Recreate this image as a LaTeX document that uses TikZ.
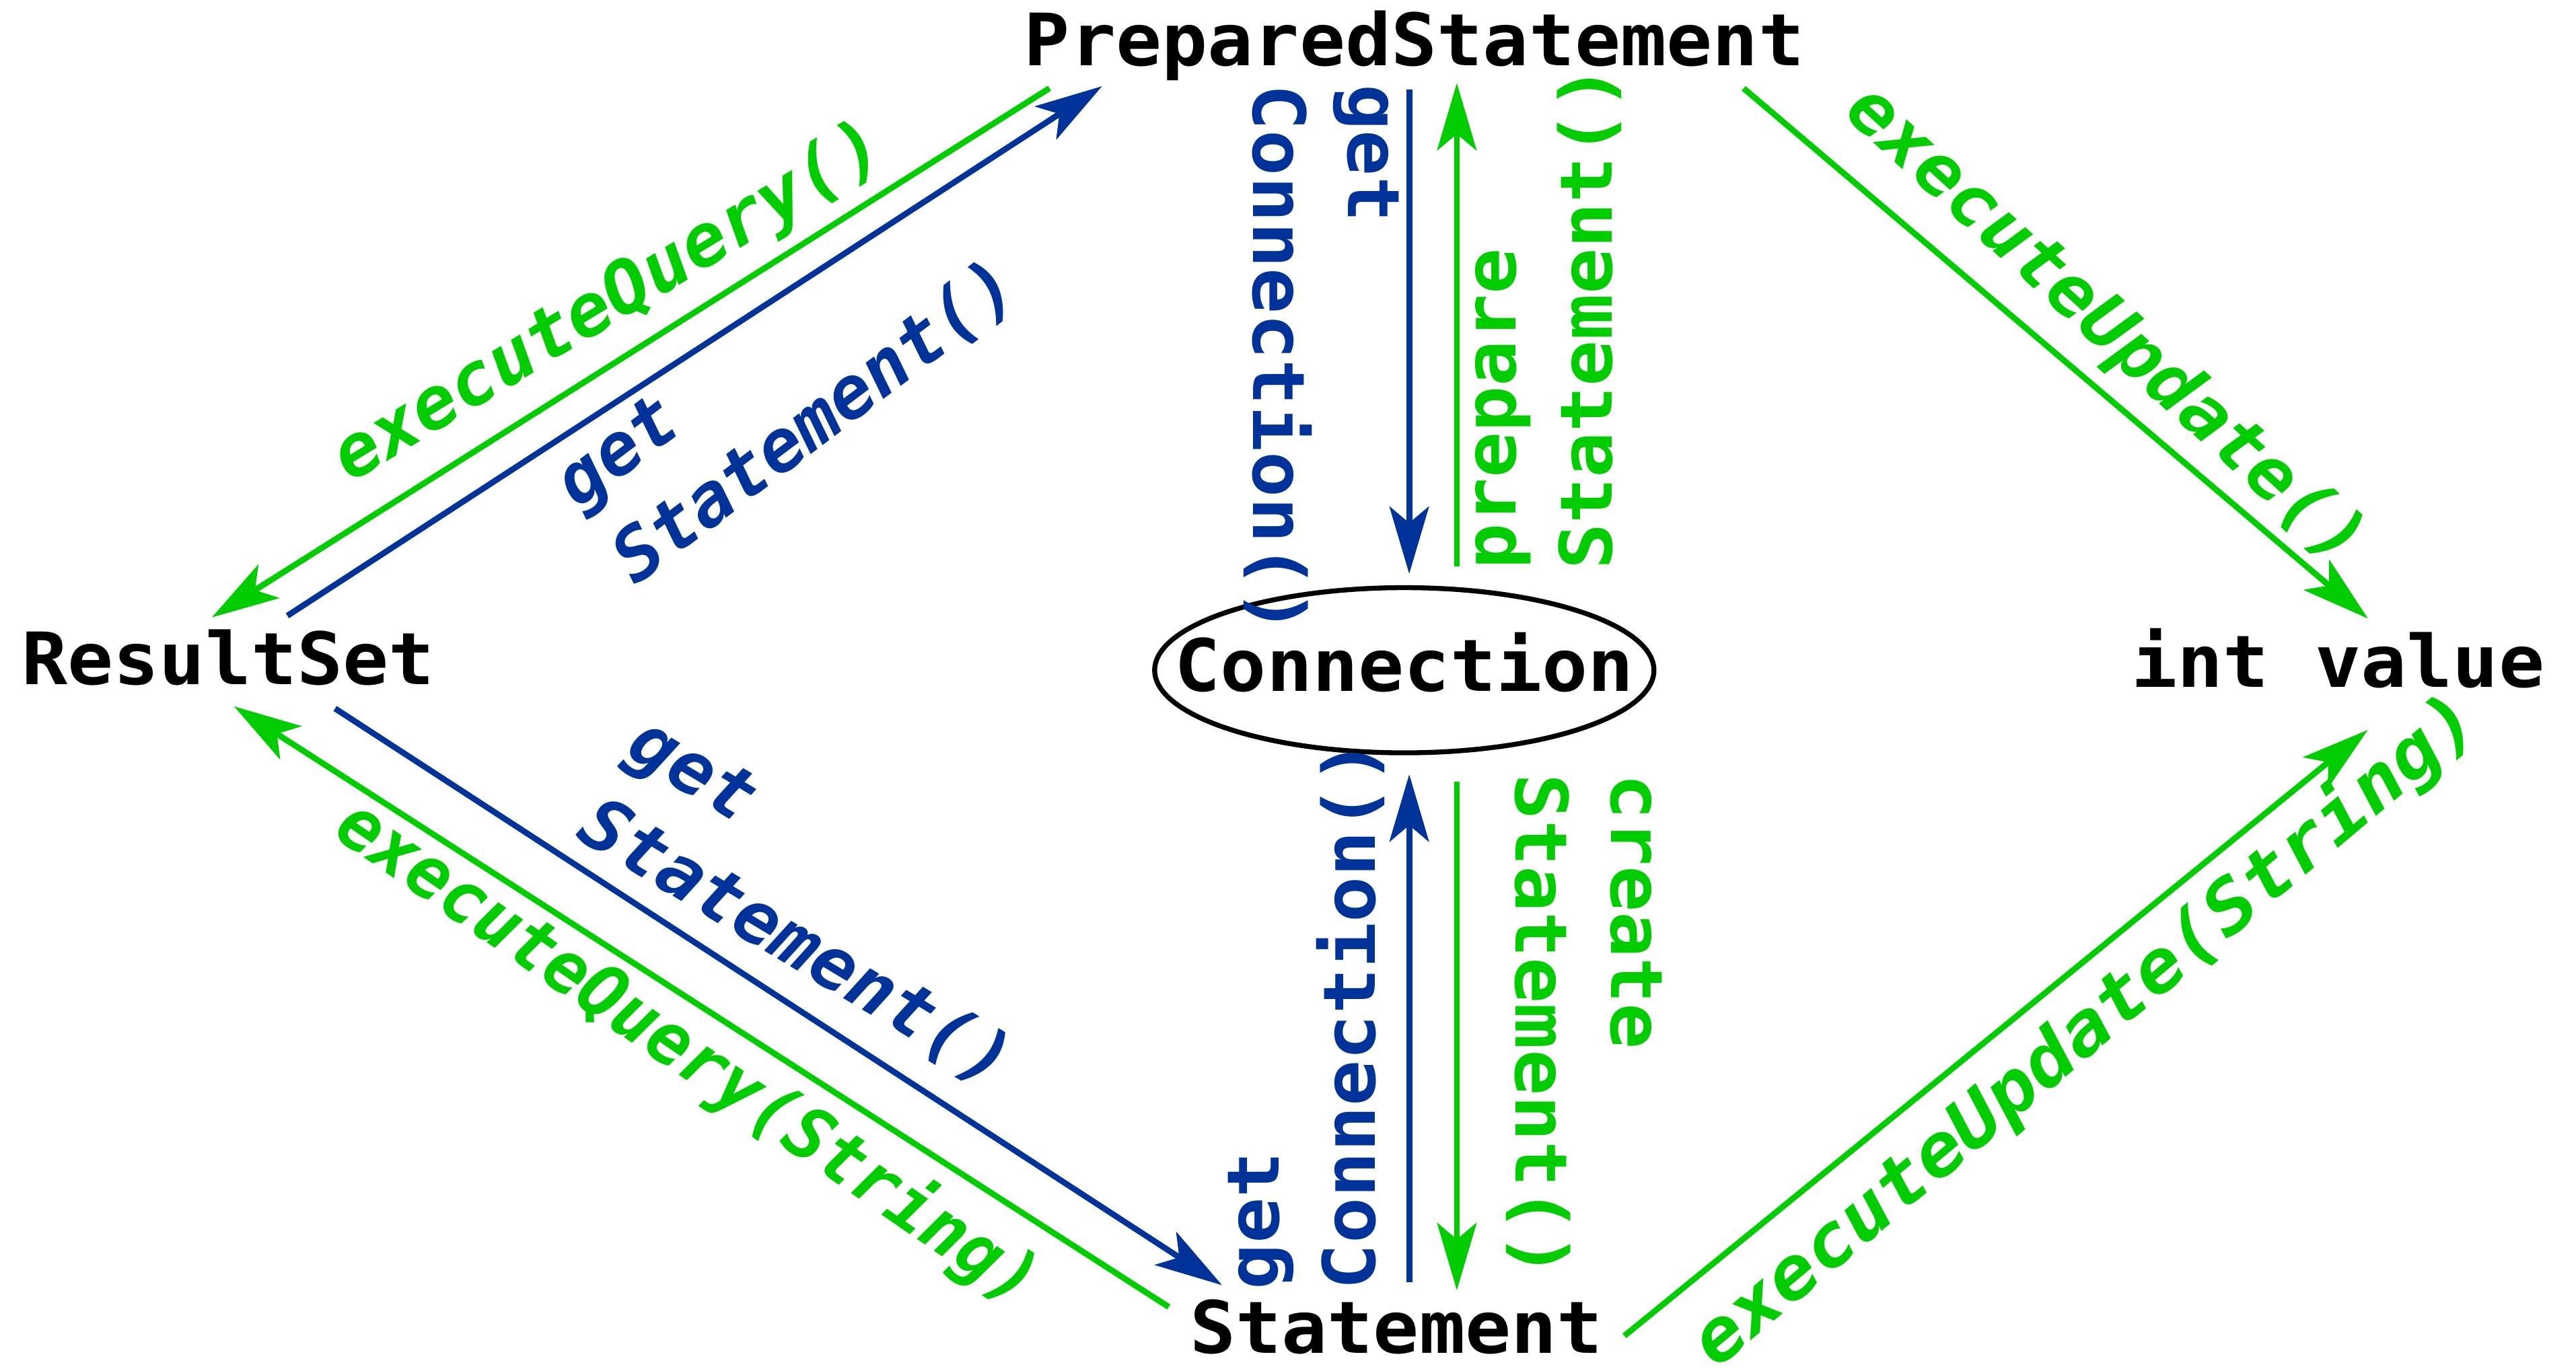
\documentclass[tikz,border=0pt]{standalone}
\usepackage{fontspec}
\usetikzlibrary{arrows.meta,shapes.geometric}
\newfontfamily\codeupright[FakeStretch=1.055]{DejaVu Sans Mono Bold}
\newfontfamily\codeslanted[FakeStretch=1.055]{DejaVu Sans Mono Bold Oblique}
\definecolor{callgreen}{RGB}{0,204,0}
\definecolor{callblue}{RGB}{0,51,153}

\begin{document}
\begin{tikzpicture}[x=1pt,y=-1pt,
  every node/.style={inner sep=0pt, outer sep=0pt},
  codefont/.style={font=\codeupright\fontsize{44}{58}\selectfont},
  classname/.style={codefont, anchor=base},
  connbox/.style={codefont, shape=ellipse, draw, line width=3pt,
    minimum width=304pt, minimum height=100.6pt,
    text height=32pt, text depth=6.4pt},
  vlabel/.style={codefont, anchor=base west},
  dlabel/.style={font=\codeslanted\fontsize{44}{58}\selectfont, align=left, anchor=center},
  call/.style={line width=3.6pt, -{Stealth[length=41pt,width=24pt,inset=10pt]}},
]
\useasboundingbox (0,0) rectangle (1568.4,835);

% classes
\node[classname] (ps) at (861.1,39.9) {PreparedStatement};
\node[classname] (rs) at (139,416.9) {ResultSet};
\node[classname] (st) at (850.2,824.1) {Statement};
\node[classname] (iv) at (1423.5,418.5) {int value};
\node[connbox] (conn) at (855,408.2) {\makebox[0pt]{Connection}};

% connector end points
\coordinate (eqA) at (639,53.7);    \coordinate (eqB) at (129,376);
\coordinate (gsA) at (175,375);     \coordinate (gsB) at (671,52.5);
\coordinate (gcA) at (858,54.6);    \coordinate (gcB) at (858,349.5);
\coordinate (prA) at (887,344.8);   \coordinate (prB) at (887,50.6);
\coordinate (euA) at (1061.6,53.8); \coordinate (euB) at (1441.7,376.7);
\coordinate (gtA) at (204,431.5);   \coordinate (gtB) at (744,782.7);
\coordinate (esA) at (711.6,796);   \coordinate (esB) at (142.5,430.2);
\coordinate (gdA) at (858,780.8);   \coordinate (gdB) at (858,471.6);
\coordinate (crA) at (887,476);     \coordinate (crB) at (887,785.8);
\coordinate (ewA) at (989,813.6);   \coordinate (ewB) at (1441.6,444.6);

% method calls
\draw[call, callgreen] (eqA) -- (eqB);
\draw[call, callblue]  (gsA) -- (gsB);
\draw[call, callblue]  (gcA) -- (gcB);
\draw[call, callgreen] (prA) -- (prB);
\draw[call, callgreen] (euA) -- (euB);
\draw[call, callblue]  (gtA) -- (gtB);
\draw[call, callgreen] (esA) -- (esB);
\draw[call, callblue]  (gdA) -- (gdB);
\draw[call, callgreen] (crA) -- (crB);
\draw[call, callgreen] (ewA) -- (ewB);

% vertical labels
\node[vlabel, text=callblue,  rotate=-90] (gc1a) at (820.9,51.5) {get};
\node[vlabel, text=callblue,  rotate=-90] (gc1b) at (763.1,51.5) {Connection()};
\node[vlabel, text=callgreen, rotate=90]  (ps1a) at (923,347) {prepare};
\node[vlabel, text=callgreen, rotate=90]  (ps1b) at (981.3,347) {Statement()};
\node[vlabel, text=callblue,  rotate=90]  (gc2a) at (778.5,785.5) {get};
\node[vlabel, text=callblue,  rotate=90]  (gc2b) at (837.1,785.5) {Connection()};
\node[vlabel, text=callgreen, rotate=-90] (cs1a) at (981,471.5) {create};
\node[vlabel, text=callgreen, rotate=-90] (cs1b) at (922.9,471.5) {Statement()};

% diagonal labels
\node[dlabel, text=callgreen, rotate=31.1,  xscale=0.98]  (eq1) at (371,185) {executeQuery()};
\node[dlabel, text=callblue,  rotate=37.0,  xscale=0.96]  (gs1) at (480,235) {get\\Statement()};
\node[dlabel, text=callgreen, rotate=-42.4, xscale=0.98]  (eu1) at (1281.5,199) {executeUpdate()};
\node[dlabel, text=callblue,  rotate=-31,   xscale=0.97]  (gs2) at (499,551) {get\\Statement()};
\node[dlabel, text=callgreen, rotate=-34.6, xscale=0.91]  (eq2) at (418.5,642) {executeQuery(String)};
\node[dlabel, text=callgreen, rotate=40,    xscale=1.04]  (eu2) at (1270,628) {executeUpdate(String)};
\end{tikzpicture}
\end{document}
